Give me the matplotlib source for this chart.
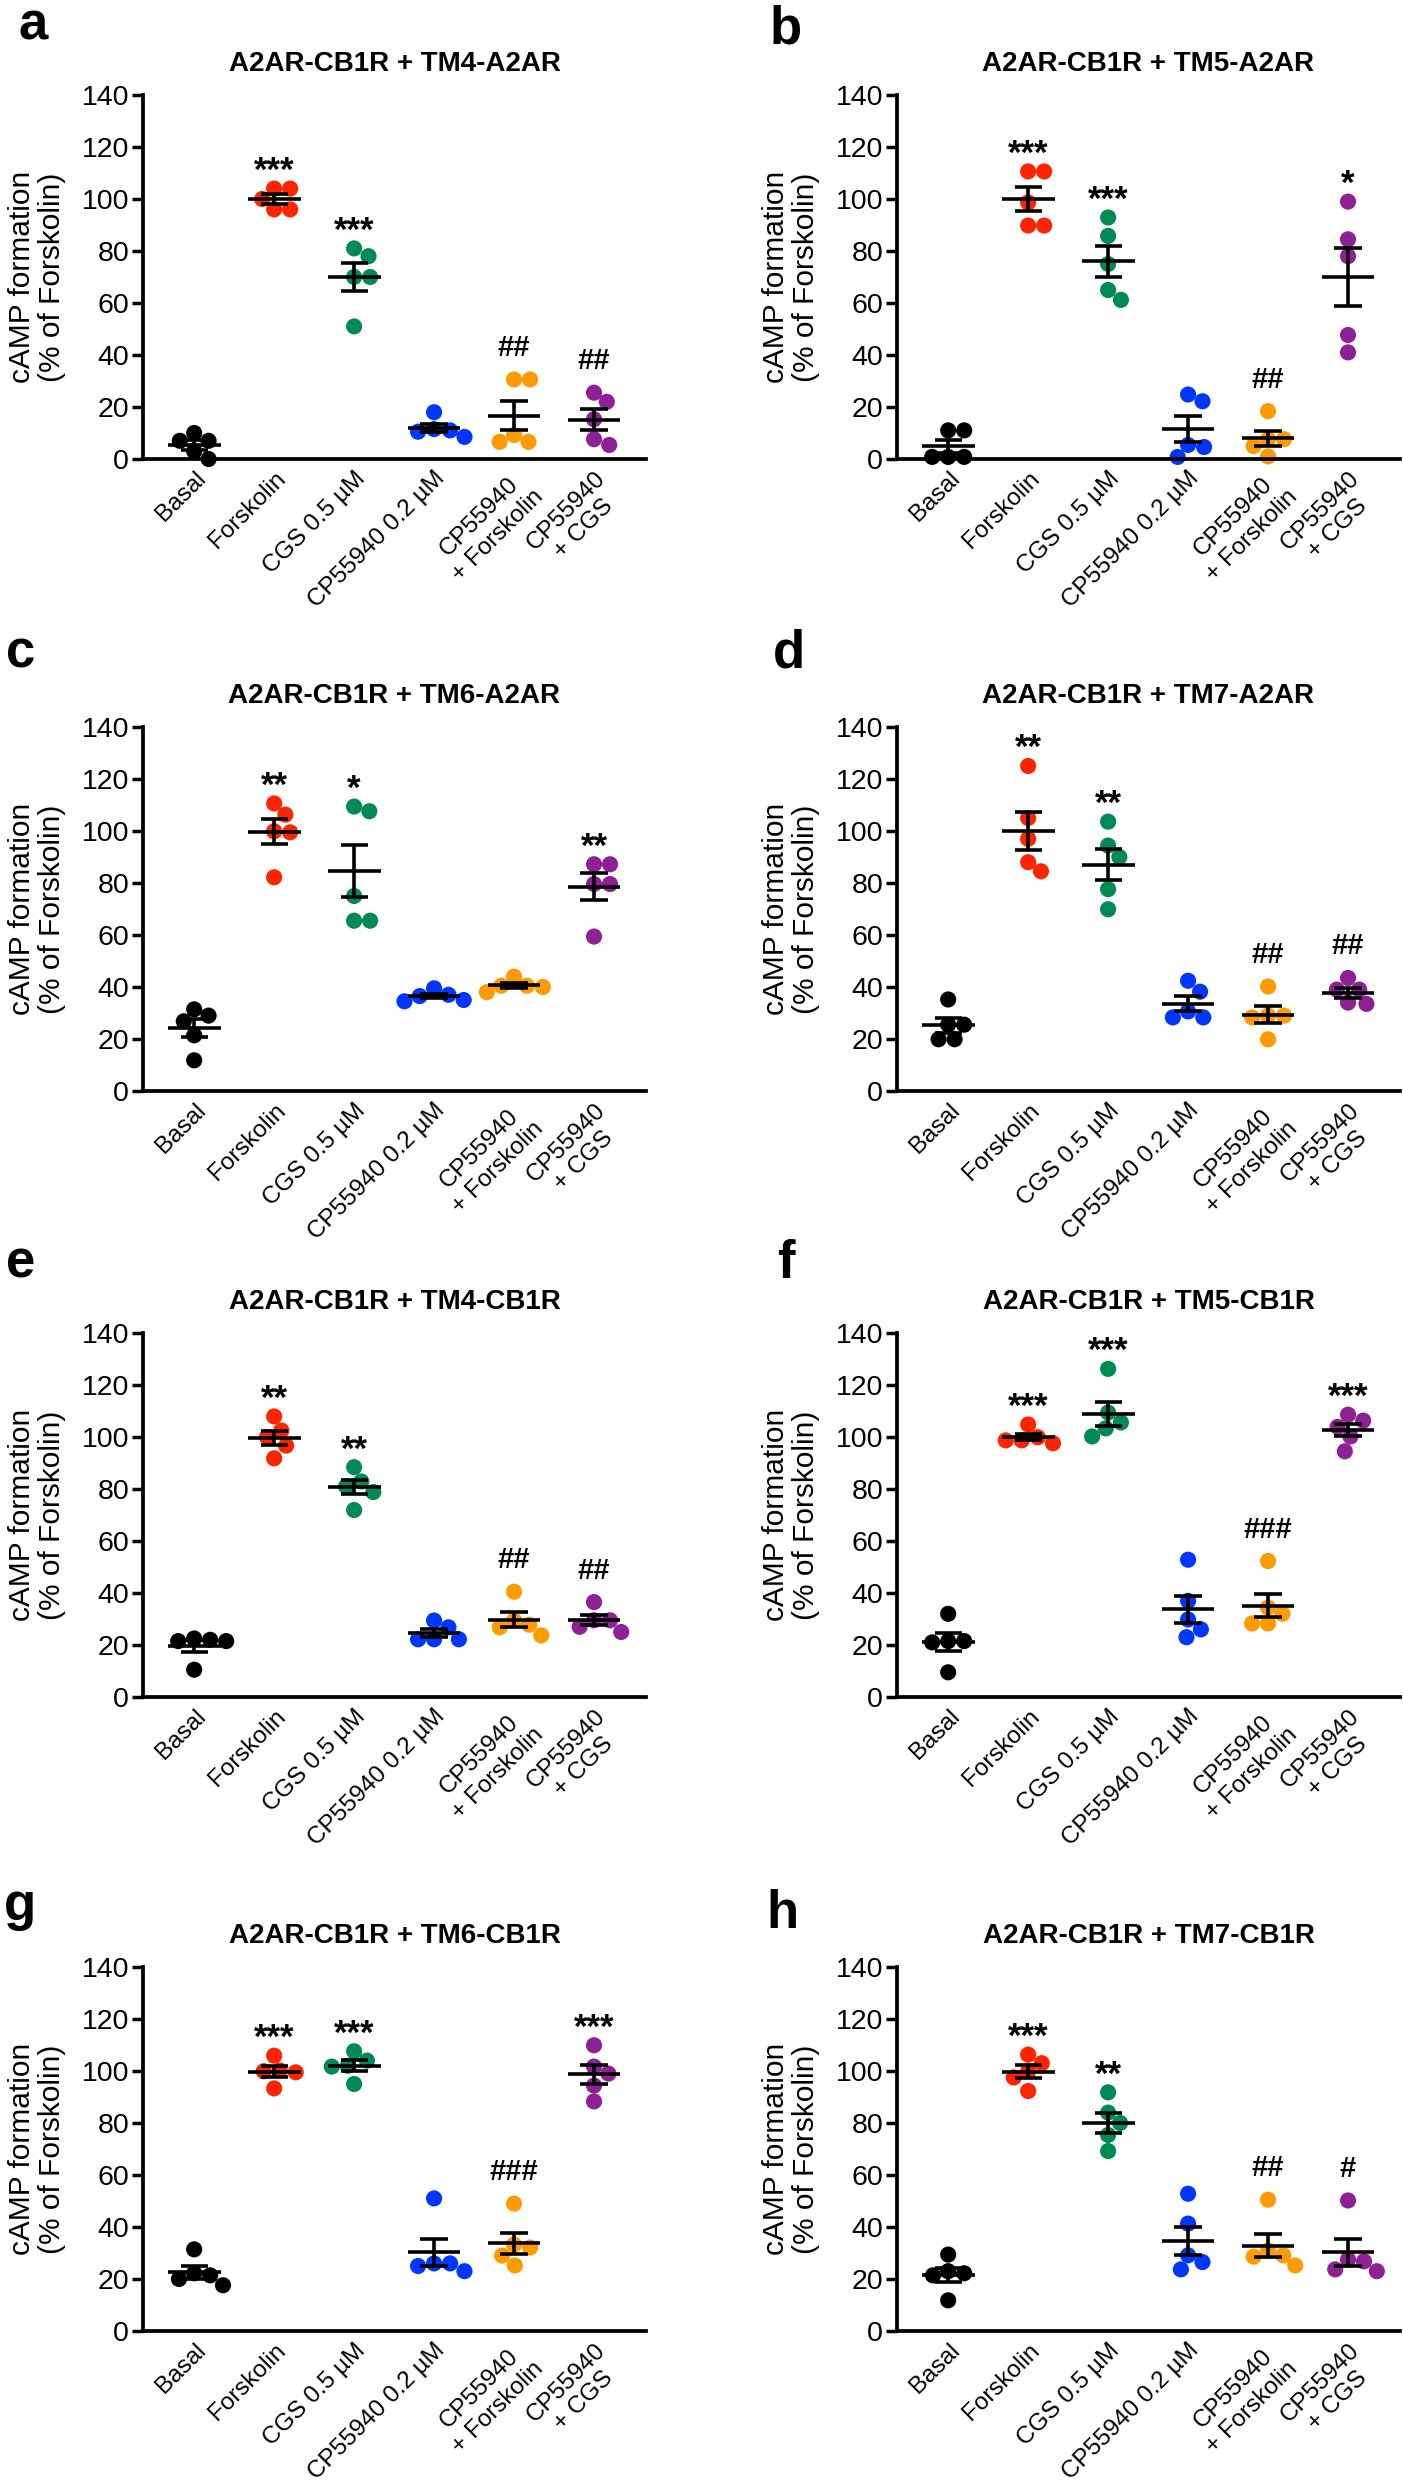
import numpy as np
import matplotlib
matplotlib.use("Agg")
import matplotlib.pyplot as plt

plt.rcParams['font.family'] = ['Liberation Sans', 'DejaVu Sans']

categories = ["Basal", "Forskolin", "CGS 0.5 µM", "CP55940 0.2 µM",
              "CP55940\n+ Forskolin", "CP55940\n+ CGS"]
colors = ["#000000", "#FF2400", "#008A55", "#0036FF", "#FF9A00", "#8E2196"]

titles = ["A2AR-CB1R + TM4-A2AR", "A2AR-CB1R + TM5-A2AR",
          "A2AR-CB1R + TM6-A2AR", "A2AR-CB1R + TM7-A2AR",
          "A2AR-CB1R + TM4-CB1R", "A2AR-CB1R + TM5-CB1R",
          "A2AR-CB1R + TM6-CB1R", "A2AR-CB1R + TM7-CB1R"]
letters = ["a", "b", "c", "d", "e", "f", "g", "h"]

a_values = [[10, 7, 7, 3, 0], [104, 104, 96, 96, 100], [81, 78, 70, 70, 51],
            [18, 8.5, 11, 10.5, 11.5], [30.6, 30.6, 9.2, 6.6, 6.6], [25.5, 22, 15.3, 7.6, 5.4]]
b_values = [[11, 11, 0.8, 0.8, 0.8], [110.6, 110.6, 98.7, 89.8, 89.8], [92.9, 85.8, 75, 61.2, 65],
            [24.8, 22.2, 5.4, 4.6, 0.8], [18.4, 7.6, 7.6, 5, 1], [99, 84.5, 78, 47.7, 41]]
c_values = [[31.4, 29, 26.8, 21.4, 11.8], [110.6, 106.3, 99.9, 99.5, 82.2], [107.6, 109.4, 75, 65.5, 65.5],
            [39.5, 36.5, 37, 34.5, 35], [44, 38, 40.5, 40, 40.5], [87.2, 87.2, 79.6, 79.6, 59.4]]
d_values = [[35.2, 25.5, 25.5, 19.9, 19.9], [125, 105, 97, 88, 84.5], [103.6, 94.4, 90, 77.6, 69.9],
            [42.4, 38.2, 30.6, 28.3, 28.3], [40.2, 29, 29, 28.3, 19.9], [43.5, 39, 39, 34, 33.5]]
e_values = [[22, 21.5, 22.5, 21.5, 10.5], [107.9, 102.5, 91.8, 96.7, 100], [88.4, 82.9, 78.8, 81, 71.9],
            [29.4, 26.8, 22.2, 22.2, 22.2], [40.5, 29.4, 27.8, 23.7, 26.8], [36.5, 29.5, 29.5, 25, 27]]
f_values = [[32, 21.5, 21.5, 21, 9.5], [104.8, 98.7, 99.9, 97.6, 98.7], [126.2, 103.3, 105.6, 109.4, 100.2],
            [52.8, 29.8, 26, 23, 37], [52.3, 34.4, 28.3, 28.3, 32], [108.6, 106.3, 103.9, 100.2, 94.5]]
g_values = [[31.4, 21.4, 20, 17.6, 22.2], [105.9, 99.9, 100.2, 99.5, 93.3], [107.6, 104, 102, 101.7, 95],
            [51, 26, 26, 23, 25], [49, 33.2, 32.1, 29, 25.2], [109.9, 101.7, 99, 94.4, 88.3]]
h_values = [[29.4, 23, 22.2, 21.4, 11.8], [106.3, 103, 99.9, 97.5, 92.3], [91.8, 84, 80, 75.4, 69.2],
            [52.8, 41.3, 29.1, 26.5, 23.7], [50.5, 25.2, 28.6, 29.1, 31], [50.2, 26.8, 27.5, 23, 23.7]]

a_marks = ["", "***", "***", "", "##", "##"]
b_marks = ["", "***", "***", "", "##", "*"]
c_marks = ["", "**", "*", "", "", "**"]
d_marks = ["", "**", "**", "", "##", "##"]
e_marks = ["", "**", "**", "", "##", "##"]
f_marks = ["", "***", "***", "", "###", "***"]
g_marks = ["", "***", "***", "", "###", "***"]
h_marks = ["", "***", "**", "", "##", "#"]

all_values = [a_values, b_values, c_values, d_values, e_values, f_values, g_values, h_values]
all_marks = [a_marks, b_marks, c_marks, d_marks, e_marks, f_marks, g_marks, h_marks]
yticks = [0, 20, 40, 60, 80, 100, 120, 140]

W, H = 1403, 2481
fig = plt.figure(figsize=(W / 100, H / 100), dpi=100)

ax_w = 503
ax_h = 364
col_left = [143, 897]
row_y0 = [459, 1091, 1697, 2331]   # pixel row of y=0
letter_pos = [(18, 40), (770, 44), (6, 668), (773, 668), (6, 1278), (777, 1278), (4, 1920), (766, 1928)]

XMIN, XMAX = -0.64, 5.65
px_per_x = ax_w / (XMAX - XMIN)
px_per_y = ax_h / 140.0
dot_d = 16.0


def swarm_offsets(vals):
    vals = np.asarray(vals, dtype=float)
    order = np.argsort(-vals)
    placed = []
    offs = np.zeros(len(vals))
    for i in order:
        y = vals[i] * px_per_y
        best = 0.0
        for k in range(0, 400):
            found = False
            for sgn in ([0] if k == 0 else [1, -1]):
                off = sgn * k * 0.05 * dot_d
                if all((off - ox) ** 2 + (y - oy) ** 2 >= (0.98 * dot_d) ** 2 for ox, oy in placed):
                    best = off
                    found = True
                    break
            if found:
                break
        placed.append((best, y))
        offs[i] = best / px_per_x
    return offs


for p in range(8):
    col = p % 2
    row = p // 2
    left = col_left[col] / W
    bottom = 1 - row_y0[row] / H
    ax = fig.add_axes([left, bottom, ax_w / W, ax_h / H])
    vals_all = all_values[p]
    marks = all_marks[p]
    for gi, vals in enumerate(vals_all):
        vals = np.asarray(vals, dtype=float)
        offs = swarm_offsets(vals)
        ax.scatter(gi + offs, vals, s=135, color=colors[gi], edgecolors='none',
                   zorder=2, clip_on=False)
        m = vals.mean()
        sem = vals.std(ddof=1) / np.sqrt(len(vals))
        ax.hlines(m, gi - 0.33, gi + 0.33, color='black', lw=2.6, zorder=3)
        ax.vlines(gi, m - sem, m + sem, color='black', lw=2.6, zorder=3)
        ax.hlines([m - sem, m + sem], gi - 0.17, gi + 0.17, color='black', lw=2.6, zorder=3)
        if marks[gi]:
            top = vals.max()
            if '*' in marks[gi]:
                ax.text(gi, top + 3.0, marks[gi], ha='center', va='baseline',
                        fontsize=25, fontweight='bold')
            else:
                ax.text(gi, top + 9.0, marks[gi], ha='center', va='baseline',
                        fontsize=21, fontweight='bold')

    ax.set_xlim(XMIN, XMAX)
    ax.set_ylim(0, 140)
    ax.set_yticks(yticks)
    ax.set_yticklabels([str(t) for t in yticks], fontsize=20.5)
    ax.set_xticks(range(len(categories)))
    ax.set_xticklabels(categories, fontsize=17.5, rotation=45, ha='right', va='top',
                       rotation_mode='anchor', multialignment='center')
    ax.tick_params(axis='x', length=0, pad=6)
    ax.tick_params(axis='y', direction='out', length=8, width=2.5, pad=2)
    for s in ['top', 'right']:
        ax.spines[s].set_visible(False)
    for s in ['left', 'bottom']:
        ax.spines[s].set_linewidth(2.7)
    ax.text(-106 / ax_w, 0.5, "cAMP formation\n(% of Forskolin)", transform=ax.transAxes,
            rotation=90, ha='center', va='center', multialignment='center', fontsize=21.5,
            linespacing=1.05)
    ax.text(0.5, 1 + 31 / ax_h, titles[p], transform=ax.transAxes, ha='center', va='center',
            fontsize=20, fontweight='bold')
    lx, ly = letter_pos[p]
    fig.text(lx / W, 1 - ly / H, letters[p], fontsize=38, fontweight='bold', ha='left', va='baseline')

fig.savefig("out.png", dpi=100)
